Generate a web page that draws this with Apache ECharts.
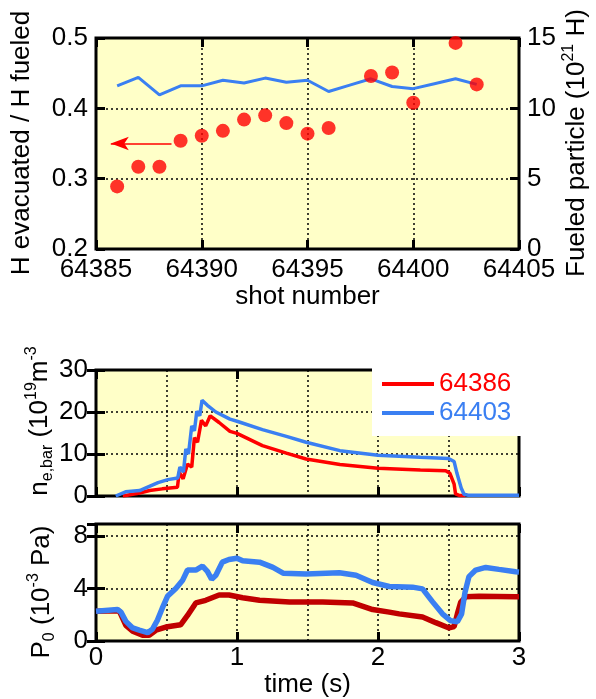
<!DOCTYPE html>
<html>
<head>
<meta charset="utf-8">
<script src="https://cdn.jsdelivr.net/npm/echarts@6/dist/echarts.min.js"></script>
<style>
  html, body { margin: 0; padding: 0; background: #fff; }
  #chart { width: 596px; height: 699px; }
</style>
</head>
<body>
<div id="chart"></div>
<script>
// --- top panel: ratio per shot (left axis) and fueled particles (right axis)
const ratioShots = [64386, 64387, 64388, 64389, 64390, 64391, 64392, 64393, 64394, 64395, 64396, 64398, 64399, 64400, 64402, 64403];
const ratioValues = [0.289, 0.317, 0.317, 0.354, 0.361, 0.368, 0.384, 0.390, 0.379, 0.364, 0.372, 0.446, 0.451, 0.408, 0.493, 0.434];
const fuelShots = [64386, 64387, 64388, 64389, 64390, 64391, 64392, 64393, 64394, 64395, 64396, 64397, 64398, 64399, 64400, 64401, 64402, 64403];
const fuelValues = [11.6, 12.2, 10.95, 11.6, 11.6, 12.0, 11.8, 12.15, 11.85, 12.0, 11.2, 11.65, 12.1, 11.55, 11.4, 11.75, 12.1, 11.7];
const arrowFrom = [64388.57, 0.350];
const arrowTo = [64385.7, 0.350];

// --- middle panel: line-averaged density
const neTime386 = [0.19, 0.31, 0.38, 0.47, 0.578, 0.59, 0.618, 0.649, 0.679, 0.698, 0.72, 0.748, 0.778, 0.81, 0.873, 0.95, 1.0, 1.18, 1.35, 1.49, 1.73, 2.0, 2.3, 2.48, 2.51, 2.54, 2.55, 2.58, 2.62];
const neVal386 = [0, 0.7, 1.3, 1.7, 2.1, 5.7, 4.1, 7.6, 6.9, 13.9, 12.8, 18.0, 16.7, 19.1, 17.5, 15.4, 14.9, 12.0, 10.2, 8.8, 7.5, 6.6, 6.2, 6.0, 5.4, 2.8, 0.5, 0.1, 0.1];
const neTime403 = [0.14, 0.21, 0.31, 0.35, 0.44, 0.51, 0.58, 0.595, 0.62, 0.637, 0.656, 0.679, 0.698, 0.715, 0.736, 0.752, 0.79, 0.85, 0.95, 1.0, 1.18, 1.35, 1.49, 1.73, 2.0, 2.3, 2.5, 2.54, 2.56, 2.59, 2.61, 2.64, 3.0];
const neVal403 = [0, 1.0, 1.3, 1.9, 3.2, 3.9, 4.3, 6.9, 5.7, 11.2, 10.0, 16.7, 15.5, 20.2, 19.1, 22.8, 21.6, 20.0, 18.3, 17.8, 15.8, 14.2, 12.8, 10.8, 9.7, 9.2, 8.9, 8.2, 5.4, 1.9, 0.4, 0.2, 0.2];

// --- bottom panel: neutral pressure
const pTime386 = [0, 0.165, 0.212, 0.26, 0.33, 0.377, 0.425, 0.495, 0.60, 0.649, 0.708, 0.778, 0.873, 0.943, 1.04, 1.16, 1.373, 1.608, 1.82, 1.962, 2.08, 2.15, 2.316, 2.41, 2.504, 2.54, 2.563, 2.587, 2.622, 2.717, 2.976, 3.0];
const pVal386 = [2.26, 2.3, 1.2, 0.76, 0.45, 0.45, 0.83, 1.07, 1.24, 1.95, 2.9, 3.1, 3.5, 3.5, 3.3, 3.1, 2.97, 2.97, 2.9, 2.4, 2.2, 2.07, 1.83, 1.4, 1.0, 1.1, 2.07, 2.97, 3.37, 3.4, 3.37, 3.37];
const pTime403 = [0, 0.153, 0.177, 0.212, 0.26, 0.307, 0.366, 0.4, 0.436, 0.47, 0.507, 0.566, 0.613, 0.649, 0.708, 0.755, 0.79, 0.82, 0.85, 0.896, 0.943, 1.0, 1.04, 1.16, 1.255, 1.33, 1.49, 1.726, 1.844, 1.962, 2.08, 2.245, 2.316, 2.386, 2.457, 2.516, 2.563, 2.593, 2.617, 2.645, 2.693, 2.764, 2.858, 2.976, 3.0];
const pVal403 = [2.26, 2.4, 2.2, 1.5, 1.0, 0.83, 0.64, 0.9, 1.6, 2.5, 3.4, 4.0, 4.6, 5.4, 5.4, 5.7, 5.3, 4.7, 5.0, 6.0, 6.2, 6.3, 6.1, 6.0, 5.6, 5.15, 5.1, 5.2, 5.0, 4.45, 4.15, 4.1, 3.97, 3.0, 2.07, 1.54, 1.47, 2.07, 3.7, 4.9, 5.4, 5.6, 5.45, 5.27, 5.25];

const FONT = "'Liberation Sans', Arial, Helvetica, sans-serif";
const FS = 26;
const RED = "#ff0000";
const DARK_RED = "#c00000";
const BLUE = "#3a7ff2";
const PAPER = "#ffffc8";

const zip = (xs, ys) => xs.map((x, i) => [x, ys[i]]);

const label = { show: true, color: "#000", fontFamily: FONT, fontSize: FS };
const noLabel = { show: false };
const tick = { show: true, inside: true, length: 9, lineStyle: { color: "#000", width: 3 } };
const dotted = { show: true, lineStyle: { color: "#000", type: [2, 3], width: 1.5 } };
const gridBox = { show: true, backgroundColor: PAPER, borderColor: "#000", borderWidth: 3 };

function xAxis(gridIndex, opt) {
  return Object.assign({
    type: "value", gridIndex: gridIndex, position: "bottom",
    axisLine: { show: false }, axisTick: tick, axisLabel: noLabel, splitLine: { show: false }
  }, opt);
}
function yAxis(gridIndex, opt) {
  return Object.assign({
    type: "value", gridIndex: gridIndex, position: "left",
    axisLine: { show: false }, axisTick: tick, axisLabel: noLabel, splitLine: { show: false }
  }, opt);
}

// rich styles for the rotated axis titles
const richName = {
  a: { fontFamily: FONT, fontSize: FS, lineHeight: 32, fill: "#000" },
  s: { fontFamily: FONT, fontSize: 16, lineHeight: 18, verticalAlign: "top", fill: "#000" },
  b: { fontFamily: FONT, fontSize: 16, lineHeight: 14, verticalAlign: "bottom", fill: "#000" }
};

const option = {
  animation: false,
  backgroundColor: "#fff",
  grid: [
    Object.assign({ left: 96, right: 77, top: 38, height: 211 }, gridBox),
    Object.assign({ left: 96, right: 77, top: 370, height: 126 }, gridBox),
    Object.assign({ left: 96, right: 77, top: 524, height: 125 }, gridBox)
  ],
  xAxis: [
    // 0: top panel, labels
    xAxis(0, {
      min: 64385, max: 64405, interval: 5, splitLine: dotted,
      axisLabel: Object.assign({}, label, { margin: 8, formatter: v => String(v) }),
      name: "shot number", nameLocation: "middle", nameGap: 33,
      nameTextStyle: { color: "#000", fontFamily: FONT, fontSize: FS }
    }),
    // 1: top panel, upper ticks
    xAxis(0, { min: 64385, max: 64405, interval: 5, position: "top" }),
    // 2: middle panel, grid lines every 0.5 s
    xAxis(1, { min: 0, max: 3, interval: 0.5, splitLine: dotted, axisTick: { show: false } }),
    // 3: middle panel, lower ticks
    xAxis(1, { min: 0, max: 3, interval: 1 }),
    // 4: middle panel, upper ticks
    xAxis(1, { min: 0, max: 3, interval: 1, position: "top" }),
    // 5: bottom panel, grid lines
    xAxis(2, { min: 0, max: 3, interval: 0.5, splitLine: dotted, axisTick: { show: false } }),
    // 6: bottom panel, labels and ticks
    xAxis(2, {
      min: 0, max: 3, interval: 1,
      axisLabel: Object.assign({}, label, { margin: 4 }),
      name: "time (s)", nameLocation: "middle", nameGap: 26,
      nameTextStyle: { color: "#000", fontFamily: FONT, fontSize: FS }
    }),
    // 7: bottom panel, upper ticks
    xAxis(2, { min: 0, max: 3, interval: 1, position: "top" })
  ],
  yAxis: [
    yAxis(0, {
      min: 0.2, max: 0.5, interval: 0.1, splitLine: dotted,
      axisLabel: Object.assign({}, label, { margin: 8, formatter: v => v.toFixed(1) })
    }),
    yAxis(0, {
      min: 0, max: 15, interval: 5, position: "right",
      axisLabel: Object.assign({}, label, { margin: 8 })
    }),
    yAxis(1, {
      min: 0, max: 30, interval: 10, splitLine: dotted,
      axisLabel: Object.assign({}, label, { margin: 8 })
    }),
    yAxis(1, { min: 0, max: 30, interval: 10, position: "right" }),
    yAxis(2, {
      min: 0, max: 8.9, interval: 4, splitLine: dotted,
      axisLabel: Object.assign({}, label, { margin: 8, showMaxLabel: false })
    }),
    yAxis(2, { min: 0, max: 8.9, interval: 4, position: "right" })
  ],
  legend: {
    data: [
      { name: "64386", textStyle: { color: RED } },
      { name: "64403", textStyle: { color: BLUE } }
    ],
    left: 372, top: 361, orient: "vertical",
    icon: "rect", itemWidth: 52, itemHeight: 4, itemGap: 3,
    selectedMode: false,
    backgroundColor: "#fff",
    padding: [10, 18, 10, 10],
    textStyle: { fontFamily: FONT, fontSize: FS }
  },
  graphic: [
    {
      type: "text", x: 22, y: 143, rotation: Math.PI / 2,
      style: { text: "H evacuated / H fueled", font: FS + "px " + FONT, fill: "#000", align: "center", verticalAlign: "middle" }
    },
    {
      type: "text", x: 577, y: 143, rotation: Math.PI / 2,
      style: { text: "{a|Fueled particle (10}{s|21}{a| H)}", align: "center", verticalAlign: "middle", rich: richName }
    },
    {
      type: "text", x: 40, y: 421, rotation: Math.PI / 2,
      style: { text: "{a|n}{b|e,bar}{a| (10}{s|19}{a|m}{s|-3}", align: "center", verticalAlign: "middle", rich: richName }
    },
    {
      type: "text", x: 42, y: 592, rotation: Math.PI / 2,
      style: { text: "{a|P}{b|0}{a| (10}{s|-3}{a| Pa)}", align: "center", verticalAlign: "middle", rich: richName }
    }
  ],
  series: [
    {
      name: "fueled", type: "line", xAxisIndex: 0, yAxisIndex: 1,
      data: zip(fuelShots, fuelValues), showSymbol: false,
      lineStyle: { color: BLUE, width: 3 }, z: 3
    },
    {
      name: "ratio", type: "scatter", xAxisIndex: 0, yAxisIndex: 0,
      data: zip(ratioShots, ratioValues), symbolSize: 14,
      itemStyle: { color: RED }, z: 4,
      markLine: {
        silent: true, animation: false,
        symbol: ["none", "arrow"], symbolSize: [10, 18],
        label: { show: false },
        lineStyle: { color: RED, width: 1.5, type: "solid" },
        data: [[{ coord: arrowFrom }, { coord: arrowTo }]]
      }
    },
    {
      name: "64386", type: "line", xAxisIndex: 2, yAxisIndex: 2,
      data: zip(neTime386, neVal386), showSymbol: false,
      itemStyle: { color: RED }, lineStyle: { color: RED, width: 3.5 }
    },
    {
      name: "64403", type: "line", xAxisIndex: 2, yAxisIndex: 2,
      data: zip(neTime403, neVal403), showSymbol: false,
      itemStyle: { color: BLUE }, lineStyle: { color: BLUE, width: 3.5 }
    },
    {
      name: "P0 64386", type: "line", xAxisIndex: 5, yAxisIndex: 4,
      data: zip(pTime386, pVal386), showSymbol: false,
      lineStyle: { color: DARK_RED, width: 5.5 }
    },
    {
      name: "P0 64403", type: "line", xAxisIndex: 5, yAxisIndex: 4,
      data: zip(pTime403, pVal403), showSymbol: false,
      lineStyle: { color: BLUE, width: 5.5 }
    }
  ]
};

const chart = echarts.init(document.getElementById("chart"), null, { renderer: "canvas" });
chart.setOption(option);
</script>
</body>
</html>
